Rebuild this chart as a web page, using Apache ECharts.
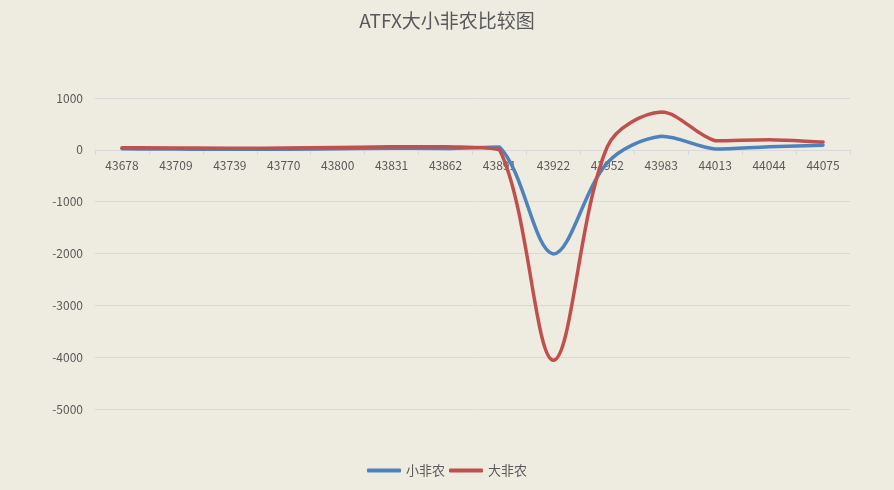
<!DOCTYPE html>
<html>
<head>
<meta charset="utf-8">
<script src="https://cdn.jsdelivr.net/npm/echarts@6/dist/echarts.min.js"></script>
<style>
  html, body { margin: 0; padding: 0; background: #EEECE1; }
  #main { width: 894px; height: 490px; }
</style>
</head>
<body>
<div id="main"></div>
<script>
// 月份（Excel 日期序号）
var months = ['43678', '43709', '43739', '43770', '43800', '43831', '43862', '43891', '43922', '43952', '43983', '44013', '44044', '44075'];
// 小非农 / 大非农
var smallNfp = [20, 15, 10, 12, 20, 30, 25, 55, -2010, -250, 260, 15, 60, 90];
var bigNfp = [40, 35, 30, 35, 45, 60, 60, 0, -4060, 60, 730, 175, 195, 150];
var yTicks = { min: -5000, max: 1000, step: 1000 };

var fontFamily = '"Noto Sans CJK SC", "Open Sans", sans-serif';
var gridTop = 98, gridBottom = 81, chartHeight = 490;
// x 轴放在 0 线上（Excel 样式），按网格高度换算偏移
var plotHeight = chartHeight - gridTop - gridBottom;
var zeroOffset = -(0 - yTicks.min) / (yTicks.max - yTicks.min) * plotHeight;

// 平滑线：切线取前后两点方向，按相邻两段长度分配控制点，y 不越过本段两端
function smoothLine(values, color) {
  var t = 1 / 3;
  function dist(a, b) {
    return Math.sqrt(Math.pow(b[0] - a[0], 2) + Math.pow(b[1] - a[1], 2));
  }
  function clamp(v, a, b) {
    return Math.max(Math.min(a, b), Math.min(Math.max(a, b), v));
  }
  return function (params, api) {
    if (params.dataIndex !== 0) return null;
    var pts = values.map(function (v, i) { return api.coord([i, v]); });
    var d = 'M' + pts[0][0] + ' ' + pts[0][1];
    for (var i = 0; i < pts.length - 1; i++) {
      var p0 = pts[i - 1] || pts[i];
      var p1 = pts[i];
      var p2 = pts[i + 1];
      var p3 = pts[i + 2] || pts[i + 1];
      var d01 = dist(p0, p1), d12 = dist(p1, p2), d23 = dist(p2, p3);
      var f1 = d12 / ((d01 + d12) || 1) * t;
      var f2 = d12 / ((d12 + d23) || 1) * t;
      if (i === 0) f1 = t;
      if (i === pts.length - 2) f2 = t;
      var c1x = p1[0] + (p2[0] - p0[0]) * f1;
      var c1y = clamp(p1[1] + (p2[1] - p0[1]) * f1, p1[1], p2[1]);
      var c2x = p2[0] - (p3[0] - p1[0]) * f2;
      var c2y = clamp(p2[1] - (p3[1] - p1[1]) * f2, p1[1], p2[1]);
      d += ' C' + c1x + ' ' + c1y + ' ' + c2x + ' ' + c2y + ' ' + p2[0] + ' ' + p2[1];
    }
    return {
      type: 'path',
      shape: { pathData: d },
      style: { fill: null, stroke: color, lineWidth: 3.5, lineCap: 'round', lineJoin: 'round' }
    };
  };
}

function toPairs(values) {
  return values.map(function (v, i) { return [i, v]; });
}

var chart = echarts.init(document.getElementById('main'));
var option = {
  backgroundColor: '#EEECE1',
  color: ['#4F81BD', '#C0504D'],
  textStyle: { fontFamily: fontFamily },
  title: {
    text: 'ATFX大小非农比较图',
    left: 'center',
    top: 6,
    textStyle: { fontSize: 19, fontWeight: 'normal', color: '#595959', fontFamily: fontFamily }
  },
  legend: {
    bottom: 8,
    left: 'center',
    itemGap: 4,
    itemWidth: 34,
    itemHeight: 4,
    icon: 'roundRect',
    textStyle: { fontSize: 13, color: '#595959' },
    data: ['小非农', '大非农']
  },
  grid: { left: 95, right: 44, top: gridTop, bottom: gridBottom, containLabel: false },
  xAxis: {
    type: 'category',
    data: months,
    boundaryGap: true,
    position: 'bottom',
    offset: zeroOffset,
    axisLine: { show: true, onZero: false, lineStyle: { color: '#D9D9D9' } },
    axisTick: { show: true, length: 5, lineStyle: { color: '#D9D9D9' } },
    axisLabel: { color: '#595959', fontSize: 12, margin: 10, interval: 0 }
  },
  yAxis: {
    type: 'value',
    min: yTicks.min,
    max: yTicks.max,
    interval: yTicks.step,
    axisLine: { show: false },
    axisTick: { show: false },
    axisLabel: { color: '#595959', fontSize: 12, margin: 12, formatter: function (v) { return String(v); } },
    splitLine: { lineStyle: { color: '#D9D9D9' } }
  },
  series: [
    {
      name: '小非农',
      type: 'custom',
      data: toPairs(smallNfp),
      encode: { x: 0, y: 1 },
      itemStyle: { color: '#4F81BD' },
      renderItem: smoothLine(smallNfp, '#4F81BD'),
      z: 2
    },
    {
      name: '大非农',
      type: 'custom',
      data: toPairs(bigNfp),
      encode: { x: 0, y: 1 },
      itemStyle: { color: '#C0504D' },
      renderItem: smoothLine(bigNfp, '#C0504D'),
      z: 3
    }
  ]
};
chart.setOption(option);
</script>
</body>
</html>
